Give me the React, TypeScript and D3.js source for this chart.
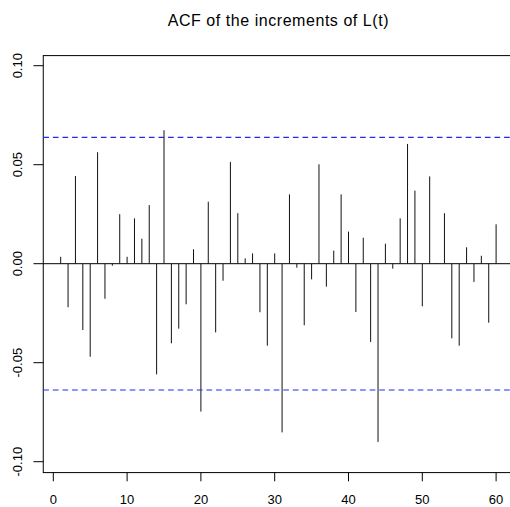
import React from "react";
import * as d3 from "d3";

const lags: number[] = Array.from({ length: 60 }, (_, i) => i + 1);
const acfValues: number[] = [
  0.0035, -0.022, 0.0443, -0.0335, -0.047, 0.0563, -0.0177, -0.001, 0.025, 0.0035,
  0.0229, 0.0126, 0.0296, -0.0559, 0.0674, -0.0402, -0.0328, -0.0205, 0.0073, -0.0747,
  0.0313, -0.0347, -0.0086, 0.0514, 0.0255, 0.0027, 0.0052, -0.0245, -0.0414, 0.0052,
  -0.0852, 0.035, -0.002, -0.0311, -0.0079, 0.0502, -0.0116, 0.0066, 0.035, 0.0162,
  -0.0244, 0.0131, -0.0395, -0.09, 0.0101, -0.0025, 0.0229, 0.0605, 0.0369, -0.0215,
  0.0441, 0.0003, 0.0255, -0.0377, -0.0414, 0.0083, -0.0092, 0.004, -0.0298, 0.0199,
];
const ciBound = 0.0638;
const xTicks: number[] = [0, 10, 20, 30, 40, 50, 60];
const yTicks: number[] = [-0.1, -0.05, 0, 0.05, 0.1];
const yTickLabels: string[] = ["-0.10", "-0.05", "0.00", "0.05", "0.10"];
const title = "ACF of the increments of L(t)";

export default function App() {
  const W = 510;
  const H = 507;
  const x = d3.scaleLinear().domain([0, 60]).range([53.3, 496.1]);
  const y = d3.scaleLinear().domain([-0.1, 0.1]).range([461.7, 65.7]);
  const left = x(-1.36);
  const right = x(62.36);
  const top = y(0.1051);
  const bottom = y(-0.1055);
  const font = "'Liberation Sans', Arial, sans-serif";

  return (
    <svg
      width={W}
      height={H}
      style={{ position: "absolute", left: 0, top: 0, background: "#fff" }}
      fontFamily={font}
    >
      <rect x={0} y={0} width={W} height={H} fill="#fff" />
      <text x={(left + right) / 2} y={26} textAnchor="middle" fontSize={16} letterSpacing={0.55} fill="#000">
        {title}
      </text>
      {/* box */}
      <rect x={left} y={top} width={right - left} height={bottom - top} fill="none" stroke="#000" strokeWidth={1} />
      {/* zero line */}
      <line x1={left} x2={right} y1={y(0)} y2={y(0)} stroke="#000" strokeWidth={1} />
      {/* bars */}
      {lags.map((l, i) => (
        <line key={l} x1={x(l)} x2={x(l)} y1={y(0)} y2={y(acfValues[i])} stroke="#111" strokeWidth={1} />
      ))}
      {/* CI lines */}
      {[ciBound, -ciBound].map((v) => (
        <line key={v} x1={left} x2={right} y1={y(v)} y2={y(v)} stroke="#1a2ef5" strokeWidth={1.1} strokeDasharray="5.7 3.9" />
      ))}
      {/* x axis */}
      {xTicks.map((t) => (
        <g key={t}>
          <line x1={x(t)} x2={x(t)} y1={bottom} y2={bottom + 8.7} stroke="#000" strokeWidth={1} />
          <text x={x(t)} y={504} textAnchor="middle" fontSize={13} fill="#000">
            {t}
          </text>
        </g>
      ))}
      {/* y axis */}
      {yTicks.map((t, i) => (
        <g key={t}>
          <line x1={left - 9.8} x2={left} y1={y(t)} y2={y(t)} stroke="#000" strokeWidth={1} />
          <text
            transform={`translate(22,${y(t)}) rotate(-90)`}
            textAnchor="middle"
            fontSize={13}
            fill="#000"
          >
            {yTickLabels[i]}
          </text>
        </g>
      ))}
    </svg>
  );
}
